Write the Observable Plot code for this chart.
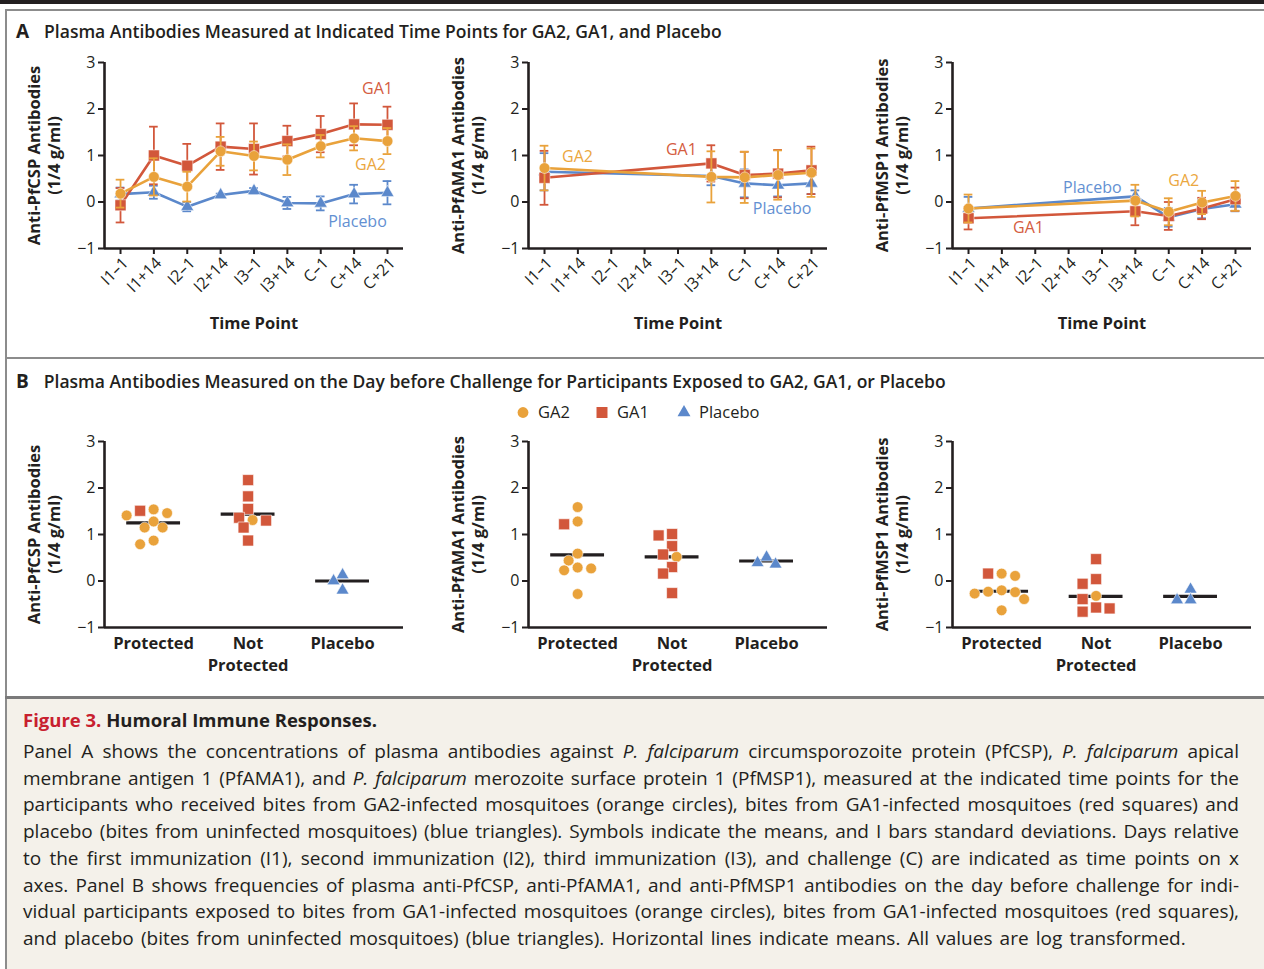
<!DOCTYPE html>
<html><head><meta charset="utf-8">
<script src="https://cdn.jsdelivr.net/npm/d3@7"></script>
<script src="https://cdn.jsdelivr.net/npm/@observablehq/plot@0.6"></script>
<style>
body{margin:0;width:1264px;height:969px;position:relative;background:#fff;font-family:"Open Sans",Lato,sans-serif;color:#231f20;overflow:hidden}
.abs{position:absolute}
.hd{position:absolute;font-weight:600;font-size:17.5px;line-height:20px;white-space:nowrap}
.hd b{font-size:19px;font-weight:700;margin-right:15px}
.cap{position:absolute;left:23px;width:1216px;font-size:19px;line-height:26.7px;white-space:nowrap}
.cap div{text-align:justify;text-align-last:justify;white-space:normal}
.cap div.last{text-align-last:left;word-spacing:2.2px}
.leg{position:absolute;top:402px;font-size:16.5px;line-height:20px}
.leg span{position:absolute;white-space:nowrap}
.plot{position:absolute}
</style></head><body>
<div class="abs" style="left:0;top:0;width:1264px;height:4px;background:#231f20"></div>
<div class="abs" style="left:5px;top:9px;width:1259px;height:2px;background:#8c8c8c"></div>
<div class="abs" style="left:5px;top:9px;width:2px;height:960px;background:#8c8c8c"></div>
<div class="abs" style="left:5px;top:357px;width:1259px;height:2px;background:#8c8c8c"></div>
<div class="abs" style="left:5px;top:696px;width:1259px;height:3px;background:#7a7a7a"></div>
<div class="abs" style="left:7px;top:699px;width:1257px;height:270px;background:#f4f1ea"></div>

<div class="hd" style="left:16px;top:21px"><b>A</b>Plasma Antibodies Measured at Indicated Time Points for GA2, GA1, and Placebo</div>
<div class="hd" style="left:16px;top:371px"><b>B</b>Plasma Antibodies Measured on the Day before Challenge for Participants Exposed to GA2, GA1, or Placebo</div>

<div id="legend" class="leg"></div>

<div id="a0" class="plot" style="left:0;top:40px"></div>
<div id="a1" class="plot" style="left:424px;top:40px"></div>
<div id="a2" class="plot" style="left:848px;top:40px"></div>
<div id="b0" class="plot" style="left:0;top:420px"></div>
<div id="b1" class="plot" style="left:424px;top:420px"></div>
<div id="b2" class="plot" style="left:848px;top:420px"></div>

<div class="abs" style="left:23px;top:708px;font-size:18.5px;line-height:24px;font-weight:700;white-space:nowrap"><span style="color:#c8202f">Figure 3.</span> Humoral Immune Responses.</div>
<div class="cap" style="top:738px">
<div>Panel A shows the concentrations of plasma antibodies against <i>P. falciparum</i> circumsporozoite protein (PfCSP), <i>P. falciparum</i> apical</div>
<div>membrane antigen 1 (PfAMA1), and <i>P. falciparum</i> merozoite surface protein 1 (PfMSP1), measured at the indicated time points for the</div>
<div>participants who received bites from GA2-infected mosquitoes (orange circles), bites from GA1-infected mosquitoes (red squares) and</div>
<div>placebo (bites from uninfected mosquitoes) (blue triangles). Symbols indicate the means, and I bars standard deviations. Days relative</div>
<div>to the first immunization (I1), second immunization (I2), third immunization (I3), and challenge (C) are indicated as time points on x</div>
<div>axes. Panel B shows frequencies of plasma anti-PfCSP, anti-PfAMA1, and anti-PfMSP1 antibodies on the day before challenge for indi-</div>
<div>vidual participants exposed to bites from GA1-infected mosquitoes (orange circles), bites from GA1-infected mosquitoes (red squares),</div>
<div class="last">and placebo (bites from uninfected mosquitoes) (blue triangles). Horizontal lines indicate means. All values are log transformed.</div>
</div>

<script>
// ---------- shared labels ----------
const timePoints = ["I1–1","I1+14","I2–1","I2+14","I3–1","I3+14","C–1","C+14","C+21"];
const antigenTitles = ["Anti-PfCSP Antibodies","Anti-PfAMA1 Antibodies","Anti-PfMSP1 Antibodies"];
const unitLabel = "(1/4 g/ml)";
const seriesNames = ["GA2","GA1","Placebo"];
const groupLabels = ["Protected","Not\nProtected","Placebo"];
const yTicks = [-1,0,1,2,3];

// ---------- Panel A: means and SDs per time point ----------
const cspGA2      = [0.18, 0.54, 0.33, 1.09, 0.99, 0.91, 1.20, 1.37, 1.31];
const cspGA2Sd    = [0.30, 0.40, 0.32, 0.31, 0.31, 0.33, 0.24, 0.26, 0.28];
const cspGA1      = [-0.07, 1.00, 0.78, 1.19, 1.14, 1.31, 1.46, 1.67, 1.66];
const cspGA1Sd    = [0.37, 0.62, 0.47, 0.50, 0.55, 0.33, 0.39, 0.45, 0.39];
const cspPlacebo  = [0.17, 0.21, -0.10, 0.15, 0.24, -0.02, -0.03, 0.17, 0.20];
const cspPlaceboSd= [0.14, 0.14, 0.10, 0.03, 0.06, 0.13, 0.15, 0.20, 0.25];

const amaGA2      = [0.73, null, null, null, null, 0.54, 0.53, 0.58, 0.63];
const amaGA2Sd    = [0.48, null, null, null, null, 0.55, 0.55, 0.53, 0.52];
const amaGA1      = [0.52, null, null, null, null, 0.83, 0.58, 0.61, 0.68];
const amaGA1Sd    = [0.58, null, null, null, null, 0.39, 0.50, 0.51, 0.51];
const amaPlacebo  = [0.65, null, null, null, null, 0.56, 0.40, 0.36, 0.40];
const amaPlaceboSd= [0.40, null, null, null, null, 0.20, 0.30, 0.24, 0.23];

const mspGA2      = [-0.14, null, null, null, null, 0.03, -0.21, -0.01, 0.13];
const mspGA2Sd    = [0.30, null, null, null, null, 0.34, 0.29, 0.25, 0.32];
const mspGA1      = [-0.35, null, null, null, null, -0.20, -0.30, -0.14, 0.06];
const mspGA1Sd    = [0.24, null, null, null, null, 0.30, 0.30, 0.23, 0.25];
const mspPlacebo  = [-0.14, null, null, null, null, 0.12, -0.33, -0.15, -0.05];
const mspPlaceboSd= [0.25, null, null, null, null, 0.13, 0.20, 0.20, 0.15];

// ---------- Panel B: individual values on day before challenge ----------
const cspProtGA2   = [1.54, 1.46, 1.41, 1.28, 1.15, 1.15, 0.87, 0.79];
const cspProtGA1   = [1.51];
const cspNotGA2    = [1.31];
const cspNotGA1    = [2.17, 1.82, 1.55, 1.36, 1.30, 1.15, 0.87];
const cspPlaceboB  = [0.13, 0.00, -0.20];
const cspMeans     = [1.25, 1.44, 0.00];

const amaProtGA2   = [1.59, 1.28, 0.59, 0.44, 0.29, 0.27, 0.23, -0.28];
const amaProtGA1   = [1.22];
const amaNotGA2    = [0.52];
const amaNotGA1    = [1.01, 0.98, 0.75, 0.57, 0.30, 0.16, -0.26];
const amaPlaceboB  = [0.51, 0.36, 0.39];
const amaMeans     = [0.56, 0.52, 0.43];

const mspProtGA2   = [0.16, 0.11, -0.20, -0.23, -0.24, -0.27, -0.39, -0.63];
const mspProtGA1   = [0.16];
const mspNotGA2    = [-0.32];
const mspNotGA1    = [0.47, 0.04, -0.06, -0.39, -0.57, -0.59, -0.66];
const mspPlaceboB  = [-0.18, -0.41, -0.41];
const mspMeans     = [-0.22, -0.33, -0.33];

// ---------- styles ----------
const COLOR = {GA2:"#e9a23b", GA1:"#d2573b", Placebo:"#5b88cb"};
const LABEL = {GA2:"#eba740", GA1:"#d45c40", Placebo:"#6390d2"};
const SYMBOL = {GA2:"circle", GA1:"square", Placebo:"triangle"};
const RADIUS = {GA2:5.4, GA1:6.2, Placebo:4.8};
const INK = "#231f20";
const FONT = "'Open Sans', Lato, sans-serif";
const W = 413, ML = 104, MR = 10;
const minus = d => d < 0 ? "\u2212" + Math.abs(d) : String(d);

function yAxisMarks(title) {
  return [
    Plot.axisY({ticks: yTicks, tickFormat: minus, tickSize: 6, tickPadding: 3, strokeWidth: 2, stroke: INK, fill: INK, fontSize: 16, label: null}),
    Plot.text([title + "\n" + unitLabel], {text: d => d, frameAnchor: "left", textAnchor: "middle", rotate: -90, dx: -61, fontSize: 16.5, fontWeight: "bold", lineHeight: 1.2, fill: INK})
  ];
}

// ----- Panel A -----
function chartA(el, vals, labelSpec, title) {
  const xDomain = [-0.48, 8.48];
  const marks = [];
  for (const name of ["Placebo","GA1","GA2"]) {
    const rows = vals[name].v.map((v, i) => ({i, v, sd: vals[name].sd[i]})).filter(d => d.v != null);
    const c = COLOR[name];
    marks.push(
      Plot.line(rows, {x: "i", y: "v", stroke: c, strokeWidth: 2.6}),
      Plot.ruleX(rows, {x: "i", y1: d => d.v - d.sd, y2: d => d.v + d.sd, stroke: c, strokeWidth: 1.8}),
      Plot.ruleY(rows, {y: d => d.v + d.sd, x1: d => d.i - 0.13, x2: d => d.i + 0.13, stroke: c, strokeWidth: 1.8}),
      Plot.ruleY(rows, {y: d => d.v - d.sd, x1: d => d.i - 0.13, x2: d => d.i + 0.13, stroke: c, strokeWidth: 1.8}),
      Plot.dot(rows, {x: "i", y: "v", symbol: SYMBOL[name], r: RADIUS[name], fill: c, stroke: "white", strokeWidth: 0.5})
    );
    const ls = labelSpec[name];
    const anchor = rows.find(d => d.i === ls.at);
    marks.push(Plot.text([anchor], {x: "i", y: "v", text: () => name, dx: ls.dx, dy: ls.dy, fill: LABEL[name], fontSize: 16}));
  }
  const p = Plot.plot({
    width: W, height: 300, marginLeft: ML, marginRight: MR, marginTop: 22, marginBottom: 92,
    style: {fontFamily: FONT, color: INK, background: "transparent", overflow: "visible"},
    x: {domain: xDomain},
    y: {domain: [-1, 3]},
    marks: [
      ...yAxisMarks(title),
      Plot.axisX({ticks: d3.range(timePoints.length), tickFormat: i => timePoints[i], tickRotate: -45, tickSize: 6, tickPadding: 3, strokeWidth: 2, stroke: INK, fill: INK, fontSize: 16, label: null}),
      Plot.ruleX([xDomain[0]], {stroke: INK, strokeWidth: 2.6}),
      Plot.ruleY([-1], {stroke: INK, strokeWidth: 2.6}),
      ...marks,
      Plot.text(["Time Point"], {text: d => d, frameAnchor: "bottom", dy: 80, fontSize: 16.5, fontWeight: "bold", fill: INK})
    ]
  });
  // shift rotated tick labels slightly right/down as in the original typesetting
  p.querySelectorAll("g[aria-label='x-axis tick label']").forEach(g => {
    const t = g.getAttribute("transform") || "";
    g.setAttribute("transform", t + " translate(5,3)");
  });
  document.getElementById(el).append(p);
}

chartA("a0", {GA2: {v: cspGA2, sd: cspGA2Sd}, GA1: {v: cspGA1, sd: cspGA1Sd}, Placebo: {v: cspPlacebo, sd: cspPlaceboSd}},
  {GA1: {at: 8, dx: -10, dy: -36}, GA2: {at: 8, dx: -17, dy: 24}, Placebo: {at: 8, dx: -30, dy: 29}}, antigenTitles[0]);
chartA("a1", {GA2: {v: amaGA2, sd: amaGA2Sd}, GA1: {v: amaGA1, sd: amaGA1Sd}, Placebo: {v: amaPlacebo, sd: amaPlaceboSd}},
  {GA2: {at: 0, dx: 33, dy: -11}, GA1: {at: 5, dx: -30, dy: -14}, Placebo: {at: 7, dx: 4, dy: 24}}, antigenTitles[1]);
chartA("a2", {GA2: {v: mspGA2, sd: mspGA2Sd}, GA1: {v: mspGA1, sd: mspGA1Sd}, Placebo: {v: mspPlacebo, sd: mspPlaceboSd}},
  {Placebo: {at: 5, dx: -43, dy: -9}, GA2: {at: 6, dx: 15, dy: -31}, GA1: {at: 0, dx: 60, dy: 10}}, antigenTitles[2]);

// ----- Panel B -----
const PX_PER_X = 94.5, PX_PER_Y = 46.5;
function swarm(rows) {
  // greedy horizontal spreading of symbols that would overlap (per category)
  const out = [];
  for (const cat of d3.range(groupLabels.length)) {
    const pts = rows.filter(d => d.cat === cat).sort((a, b) => b.v - a.v);
    const placed = [];
    for (const p of pts) {
      const py = p.v * PX_PER_Y;
      for (let k = 0; k < 60; k++) {
        const off = (k % 2 ? -1 : 1) * Math.ceil(k / 2) * 4.5;
        if (placed.every(q => Math.hypot(q.off - off, q.py - py) >= 10.5)) {
          placed.push({off, py});
          out.push({...p, x: cat + off / PX_PER_X});
          break;
        }
      }
    }
  }
  return out;
}

function chartB(el, groups, means, title) {
  const xDomain = [-0.52, 2.645];
  const rows = [];
  groups.forEach(([cat, name, arr]) => arr.forEach(v => rows.push({cat, series: name, v})));
  const pts = swarm(rows);
  const meanRows = means.map((v, cat) => ({cat, v}));
  const p = Plot.plot({
    width: W, height: 270, marginLeft: ML, marginRight: MR, marginTop: 21, marginBottom: 63,
    style: {fontFamily: FONT, color: INK, background: "transparent", overflow: "visible"},
    x: {domain: xDomain},
    y: {domain: [-1, 3]},
    marks: [
      ...yAxisMarks(title),
      Plot.axisX({ticks: [0, 1, 2], tickFormat: i => groupLabels[i], tickSize: 0, tickPadding: 5, fill: INK, fontSize: 16.5, fontWeight: "bold", lineHeight: 1.38, label: null}),
      Plot.ruleX([xDomain[0]], {stroke: INK, strokeWidth: 2.6}),
      Plot.ruleY([-1], {stroke: INK, strokeWidth: 2.6}),
      Plot.ruleY(meanRows, {y: "v", x1: d => d.cat - 0.285, x2: d => d.cat + 0.285, stroke: INK, strokeWidth: 3.2}),
      ...seriesNames.map(name => Plot.dot(pts.filter(d => d.series === name), {x: "x", y: "v", symbol: SYMBOL[name], r: RADIUS[name], fill: COLOR[name], stroke: "white", strokeWidth: 0.6}))
    ]
  });
  document.getElementById(el).append(p);
}

chartB("b0", [[0,"GA2",cspProtGA2],[0,"GA1",cspProtGA1],[1,"GA2",cspNotGA2],[1,"GA1",cspNotGA1],[2,"Placebo",cspPlaceboB]], cspMeans, antigenTitles[0]);
chartB("b1", [[0,"GA2",amaProtGA2],[0,"GA1",amaProtGA1],[1,"GA2",amaNotGA2],[1,"GA1",amaNotGA1],[2,"Placebo",amaPlaceboB]], amaMeans, antigenTitles[1]);
chartB("b2", [[0,"GA2",mspProtGA2],[0,"GA1",mspProtGA1],[1,"GA2",mspNotGA2],[1,"GA1",mspNotGA1],[2,"Placebo",mspPlaceboB]], mspMeans, antigenTitles[2]);

// ----- legend (Panel B) -----
const legendPos = {GA2: 516, GA1: 595, Placebo: 677};
const leg = document.getElementById("legend");
for (const name of seriesNames) {
  const sym = d3.symbol(name === "GA2" ? d3.symbolCircle : name === "GA1" ? d3.symbolSquare : d3.symbolTriangle, Math.PI * RADIUS[name] ** 2)();
  const s = document.createElement("span");
  s.style.left = legendPos[name] + "px";
  s.innerHTML = `<svg width="16" height="20" style="vertical-align:top"><path d="${sym}" transform="translate(7,10.5)" fill="${COLOR[name]}"/></svg><span style="position:static;margin-left:6px">${name}</span>`;
  leg.append(s);
}
</script>
</body></html>
